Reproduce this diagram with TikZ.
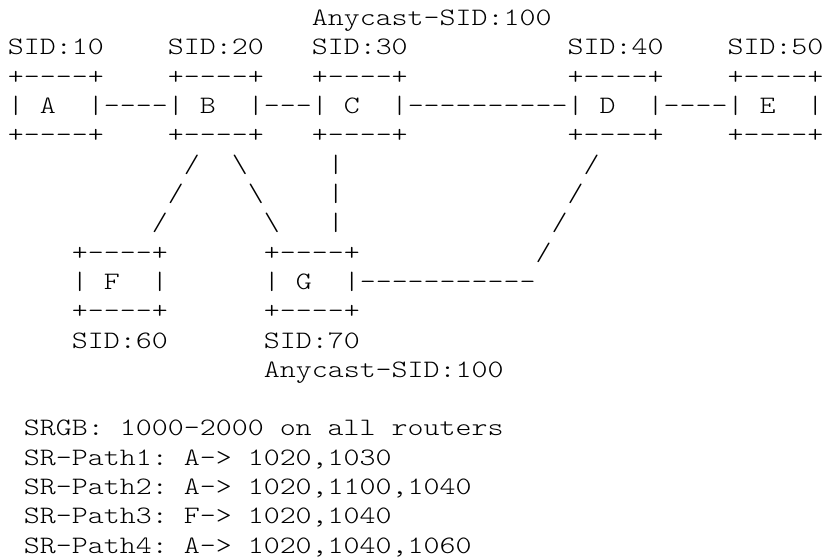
\documentclass[tikz,border=0pt]{standalone}
\usepackage{fontspec}
% thin typewriter face, widened to a 15.99pt character pitch
\setmonofont{lmmonolt10-regular.otf}[FakeStretch=1.2160]
\newlength\asciicw
\setlength\asciicw{15.99pt}
% one blank character cell
\newcommand\asp{\hspace*{\asciicw}}
\tikzset{
  art/.style={anchor=base west, inner sep=0pt, outer sep=0pt,
    font=\fontsize{25.04}{29.3}\selectfont\ttfamily, text=black}
}
% \cell{name}{column}{row}{text}
\newcommand\cell[4]{\node[art] (#1) at (#2,#3) {#4};}

\begin{document}
\begin{tikzpicture}
\useasboundingbox (0,0) rectangle (825pt,558pt);
\begin{scope}[shift={(8pt,532.3pt)}, x=15.99pt, y=-29.3pt]
  % anycast label above C
  \cell{anyC}{19}{0}{Anycast-SID:100}
  % node SIDs, top row
  \cell{sidA}{0}{1}{SID:10}
  \cell{sidB}{10}{1}{SID:20}
  \cell{sidC}{19}{1}{SID:30}
  \cell{sidD}{35}{1}{SID:40}
  \cell{sidE}{45}{1}{SID:50}
  % top row of routers
  \cell{topA}{0}{2}{+----+}
  \cell{topB}{10}{2}{+----+}
  \cell{topC}{19}{2}{+----+}
  \cell{topD}{35}{2}{+----+}
  \cell{topE}{45}{2}{+----+}
  \cell{midA}{0}{3}{|\asp A\asp\asp|}
  \cell{linkAB}{6}{3}{----}
  \cell{midB}{10}{3}{|\asp B\asp\asp|}
  \cell{linkBC}{16}{3}{---}
  \cell{midC}{19}{3}{|\asp C\asp\asp|}
  \cell{linkCD}{25}{3}{----------}
  \cell{midD}{35}{3}{|\asp D\asp\asp|}
  \cell{linkDE}{41}{3}{----}
  \cell{midE}{45}{3}{|\asp E\asp\asp|}
  \cell{botA}{0}{4}{+----+}
  \cell{botB}{10}{4}{+----+}
  \cell{botC}{19}{4}{+----+}
  \cell{botD}{35}{4}{+----+}
  \cell{botE}{45}{4}{+----+}
  % links down to F and G
  \cell{bf1}{11}{5}{/}
  \cell{bg1}{14}{5}{\textbackslash}
  \cell{cg1}{20}{5}{|}
  \cell{dg1}{36}{5}{/}
  \cell{bf2}{10}{6}{/}
  \cell{bg2}{15}{6}{\textbackslash}
  \cell{cg2}{20}{6}{|}
  \cell{dg2}{35}{6}{/}
  \cell{bf3}{9}{7}{/}
  \cell{bg3}{16}{7}{\textbackslash}
  \cell{cg3}{20}{7}{|}
  \cell{dg3}{34}{7}{/}
  % bottom row of routers
  \cell{topF}{4}{8}{+----+}
  \cell{topG}{16}{8}{+----+}
  \cell{dg4}{33}{8}{/}
  \cell{midF}{4}{9}{|\asp F\asp\asp|}
  \cell{midG}{16}{9}{|\asp G\asp\asp|}
  \cell{linkGD}{22}{9}{-----------}
  \cell{botF}{4}{10}{+----+}
  \cell{botG}{16}{10}{+----+}
  \cell{sidF}{4}{11}{SID:60}
  \cell{sidG}{16}{11}{SID:70}
  \cell{anyG}{16}{12}{Anycast-SID:100}
  % legend
  \cell{srgb}{1}{14}{SRGB:\asp 1000-2000\asp on\asp all\asp routers}
  \cell{path1}{1}{15}{SR-Path1:\asp A->\asp 1020,1030}
  \cell{path2}{1}{16}{SR-Path2:\asp A->\asp 1020,1100,1040}
  \cell{path3}{1}{17}{SR-Path3:\asp F->\asp 1020,1040}
  \cell{path4}{1}{18}{SR-Path4:\asp A->\asp 1020,1040,1060}
\end{scope}
\end{tikzpicture}
\end{document}
